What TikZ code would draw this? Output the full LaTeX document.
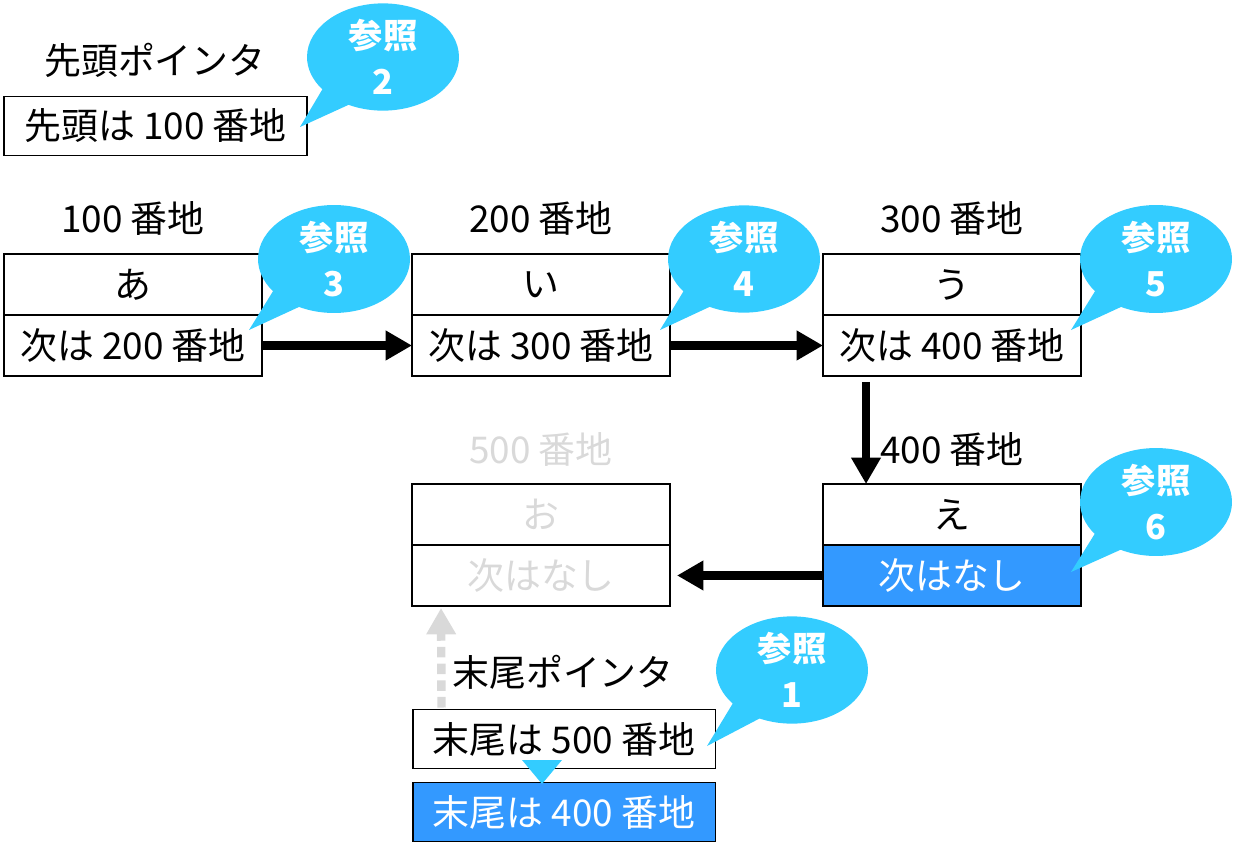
\documentclass[tikz,border=0pt]{standalone}
\usepackage{fontspec}
\setmainfont{Noto Sans CJK JP}
\usetikzlibrary{arrows.meta,positioning,calc,shapes.callouts}
\definecolor{callcyan}{HTML}{33CCFF}
\definecolor{nextblue}{HTML}{3399FF}
\definecolor{gonegray}{HTML}{D9D9D9}
\newcommand{\mainsize}{\fontsize{21}{25}\selectfont}
\tikzset{
		cellbox/.style={draw=black, line width=1.1pt, outer sep=0pt,
			minimum width=5.16cm, minimum height=1.22cm, inner sep=0pt,
			font=\mainsize},
		ptrbox/.style={cellbox, minimum width=6.06cm, minimum height=1.18cm},
		filled/.style={fill=nextblue, text=white},
		gone/.style={text=gonegray},
		addr/.style={font=\mainsize, inner sep=0pt},
		refballoon/.style={ellipse callout, fill=callcyan, text=white,
			minimum width=3.04cm, minimum height=2.05cm, inner sep=0pt,
			callout pointer arc=26, align=center,
			font=\fontsize{19.5}{26.5}\selectfont\bfseries},
		nextarrow/.style={line width=4.8pt,
			-{Triangle[length=15pt, width=16pt]}},
	}

\begin{document}
\begin{tikzpicture}[x=0.02cm, y=-0.02cm]
	\useasboundingbox (0,0) rectangle (1234,858);

	% head pointer
	\node[addr] (headname) at (155,60) {先頭ポインタ};
	\node[ptrbox] (head) at (155.5,126) {先頭は 100 番地};

	% list cells
	\node[cellbox] (c100t) at (133,284.5) {あ};
	\node[cellbox, below=0pt of c100t] (c100b) {次は 200 番地};
	\node[cellbox] (c200t) at (541,284.5) {い};
	\node[cellbox, below=0pt of c200t] (c200b) {次は 300 番地};
	\node[cellbox] (c300t) at (952,284.5) {う};
	\node[cellbox, below=0pt of c300t] (c300b) {次は 400 番地};
	\node[cellbox, gone] (c500t) at (541,514.5) {お};
	\node[cellbox, gone, below=0pt of c500t] (c500b) {次はなし};
	\node[cellbox] (c400t) at (952,514.5) {え};
	\node[cellbox, filled, below=0pt of c400t] (c400b) {次はなし};

	\node[addr] (a100) at (133,218) {100 番地};
	\node[addr] (a200) at (541,218) {200 番地};
	\node[addr] (a300) at (952,218) {300 番地};
	\node[addr, gone] (a500) at (541,449) {500 番地};
	\node[addr] (a400) at (952,449) {400 番地};

	% tail pointer
	\node[addr] (tailname) at (563,672) {末尾ポインタ};
	\node[ptrbox] (tail5) at (564,739) {末尾は 500 番地};
	\node[ptrbox, filled] (tail4) at (564,812) {末尾は 400 番地};
	\fill[callcyan] (522,760) -- (562,760) -- (542,784) -- cycle;

	% links
	\draw[nextarrow] (c100b.east) -- (c200b.west);
	\draw[nextarrow] (c200b.east) -- (c300b.west);
	\draw[nextarrow] ($(c300b.south west)+(43,6)$) -- ($(c400t.north west)+(43,0)$);
	\draw[nextarrow, shorten >=4pt] (c400b.west) -- (c500b.east);
	\draw[nextarrow, gonegray, dash pattern=on 6pt off 3.5pt]
		($(tail5.north west)+(29,-2)$) -- ($(c500b.south west)+(29,2)$);

	% reference balloons
	\coordinate (tip1) at (707,746);
	\coordinate (tip2) at (300,127);
	\coordinate (tip3) at (249,330);
	\coordinate (tip4) at (660,330);
	\coordinate (tip5) at (1071,330);
	\coordinate (tip6) at (1071,572);
	\node[refballoon, callout absolute pointer={(tip1)}] (ref1) at (792,670) {参照\\1};
	\node[refballoon, callout absolute pointer={(tip2)}] (ref2) at (383,57) {参照\\2};
	\node[refballoon, callout absolute pointer={(tip3)}] (ref3) at (334,259) {参照\\3};
	\node[refballoon, callout absolute pointer={(tip4)}] (ref4) at (744,259) {参照\\4};
	\node[refballoon, callout absolute pointer={(tip5)}] (ref5) at (1156,259) {参照\\5};
	\node[refballoon, callout absolute pointer={(tip6)}] (ref6) at (1156,502) {参照\\6};
\end{tikzpicture}
\end{document}
